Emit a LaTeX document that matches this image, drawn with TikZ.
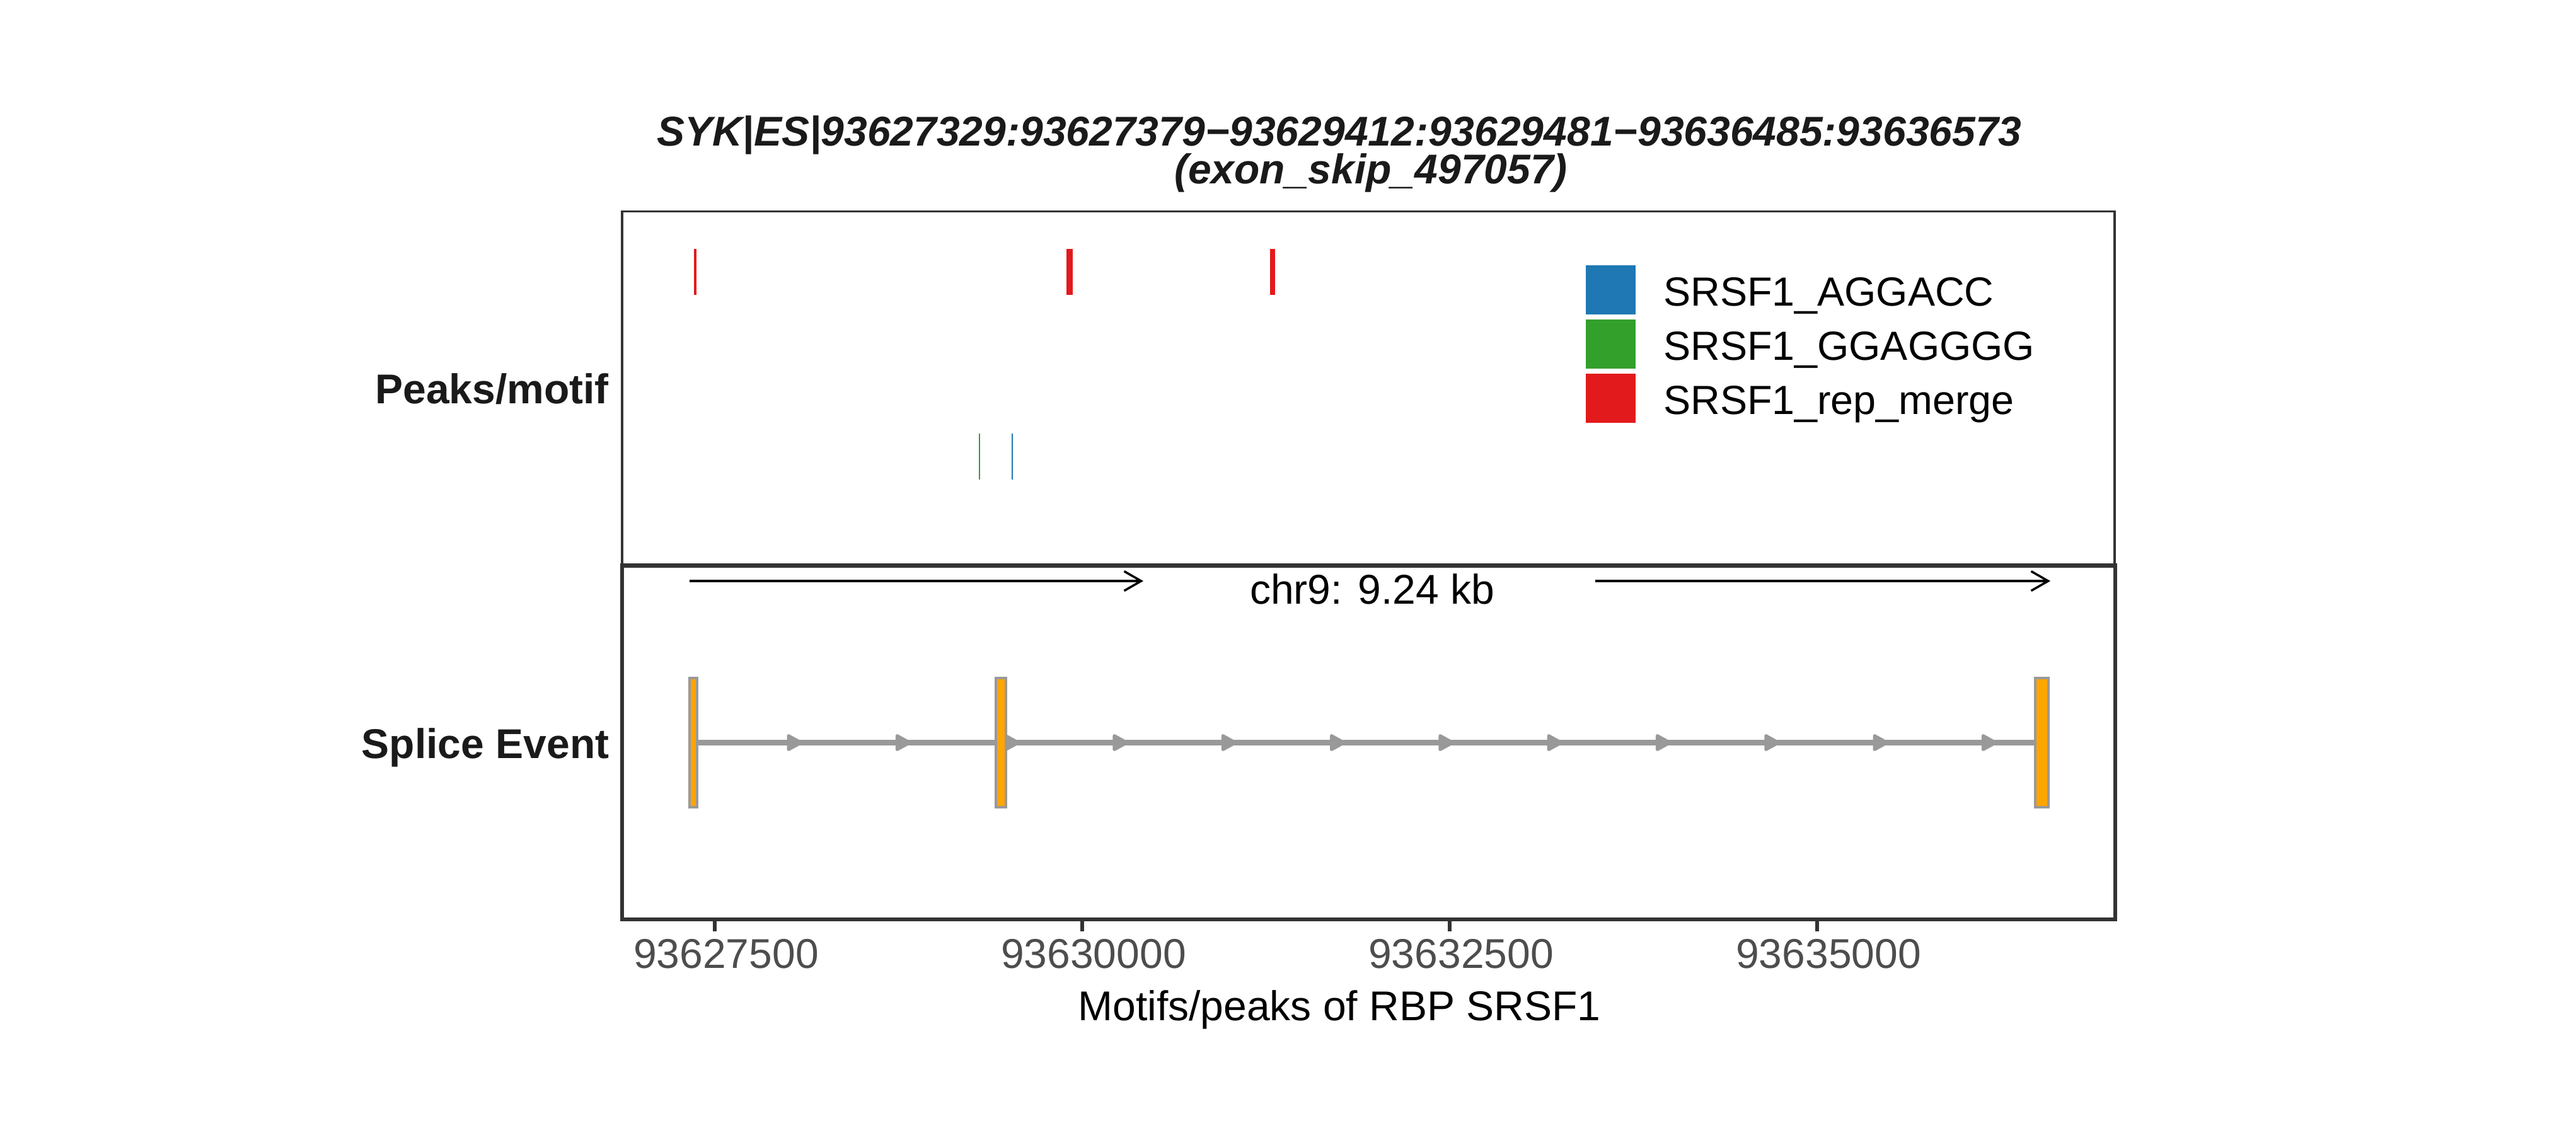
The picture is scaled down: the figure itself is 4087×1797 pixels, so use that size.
\documentclass[tikz,border=0pt]{standalone}
\usepackage{fontspec}
\setmainfont{Liberation Sans}
\usetikzlibrary{positioning,arrows.meta,backgrounds}

\definecolor{framegray}{HTML}{333333}
\definecolor{textgray}{HTML}{1A1A1A}
\definecolor{ticklabgray}{HTML}{4D4D4D}
\definecolor{introngray}{HTML}{999999}
\definecolor{exonorange}{HTML}{FFA500}
\definecolor{peakred}{HTML}{E31A1C}
\definecolor{motifgreen}{HTML}{33A02C}
\definecolor{motifblue}{HTML}{1F78B4}

\begin{document}
\begin{tikzpicture}[x=0.005cm, y=-0.005cm,
    every node/.style={inner sep=0pt, text height=0.716em, text depth=0pt, font=\fontsize{9.4}{11}\selectfont},
    title/.style={font=\fontsize{9.4}{11}\selectfont\bfseries\itshape, text=textgray},
    rowlabel/.style={font=\fontsize{9.4}{11}\selectfont\bfseries, text=textgray},
    keylab/.style={font=\fontsize{9.2}{11}\selectfont},
    panel/.style={draw=framegray, minimum width=11.85cm, minimum height=2.805cm},
    exon/.style={draw=introngray, fill=exonorange, line width=0.6pt, minimum height=1.025cm},
    intron/.style={draw=introngray, line width=1.2pt},
    chevron/.style={fill=introngray, draw=introngray, line width=0.7pt, line join=round},
    strand/.style={draw=black, line width=0.5pt, -{Straight Barb[length=0.135cm, width=0.155cm]}},
    key/.style={minimum size=0.395cm},
    axistick/.style={draw=framegray, line width=0.9pt},
    ticklab/.style={text=ticklabgray}]
    \begin{scope}[on background layer]
        \path[use as bounding box, fill=white] (0,0) rectangle (4087,1797);
    \end{scope}

    % Title
    \node (title top) at (2125,206.5) [title] {SYK|ES|93627329:93627379−93629412:93629481−93636485:93636573};
    \node (title bottom) at (2175,266.5) [title] {(exon\_skip\_497057)};

    % Panels
    \node (peaks panel) at (2171,615.5) [panel, line width=0.5pt] {};
    \node (splice panel) at (2171.5,1178) [panel, line width=0.92pt, minimum width=11.855cm, minimum height=2.81cm] {};

    \node (peaks label) [left=0.09cm of peaks panel, rowlabel] {Peaks/motif};
    \node (splice label) [left=0.08cm of splice panel, rowlabel] {Splice Event};

    % Peaks and motifs
    \foreach \a/\b in {1100.5/1104.5, 1692/1702, 2015/2023}
        \fill[peakred] (\a,395) rectangle (\b,468);
    \fill[motifgreen] (1553.3,688) rectangle (1555.3,761);
    \fill[motifblue] (1604.7,688) rectangle (1606.7,761);

    % Legend
    \node (key blue) at (2555,460) [key, fill=motifblue] {};
    \node (key green) at (2555,546) [key, fill=motifgreen] {};
    \node (key red) at (2555,632) [key, fill=peakred] {};
    \node (lab blue) [right=0.21cm of key blue, keylab] {SRSF1\_AGGACC};
    \node (lab green) [right=0.21cm of key green, keylab] {SRSF1\_GGAGGGG};
    \node (lab red) [right=0.21cm of key red, keylab] {SRSF1\_rep\_merge};

    % Strand arrows
    \coordinate (fwd1 start) at (1094,922);
    \coordinate (fwd1 end) at (1814,922);
    \coordinate (fwd2 start) at (2531,922);
    \coordinate (fwd2 end) at (3253,922);
    \draw[strand] (fwd1 start) -- (fwd1 end);
    \draw[strand] (fwd2 start) -- (fwd2 end);
    \node (chr label) at (2177,933.5) {chr9: 9.24 kb};

    % Exons and intron
    \node (exon1) at (1100,1178.5) [exon, minimum width=0.06cm] {};
    \node (exon2) at (1588,1178.5) [exon, minimum width=0.08cm] {};
    \node (exon3) at (3239.5,1178.5) [exon, minimum width=0.105cm] {};
    \begin{scope}[on background layer]
        \draw[intron] (exon1.center) -- (exon3.center);
        \foreach \k in {0,...,11}
            \filldraw[chevron] ({1261+172.3*\k-10},1167.5) -- ++(20,11) -- ++(-20,11) -- cycle;
    \end{scope}

    % Axis
    \foreach \pos/\lab in {1134/93627500, 1717/93630000, 2300/93632500, 2883/93635000} {
        \draw[axistick] (\pos,1459) -- (\pos,1478);
        \node (tick \pos) at (\pos+18,1511.4) [ticklab] {\lab};
    }
    \node (x title) at (2125,1594.5) {Motifs/peaks of RBP SRSF1};
\end{tikzpicture}
\end{document}
